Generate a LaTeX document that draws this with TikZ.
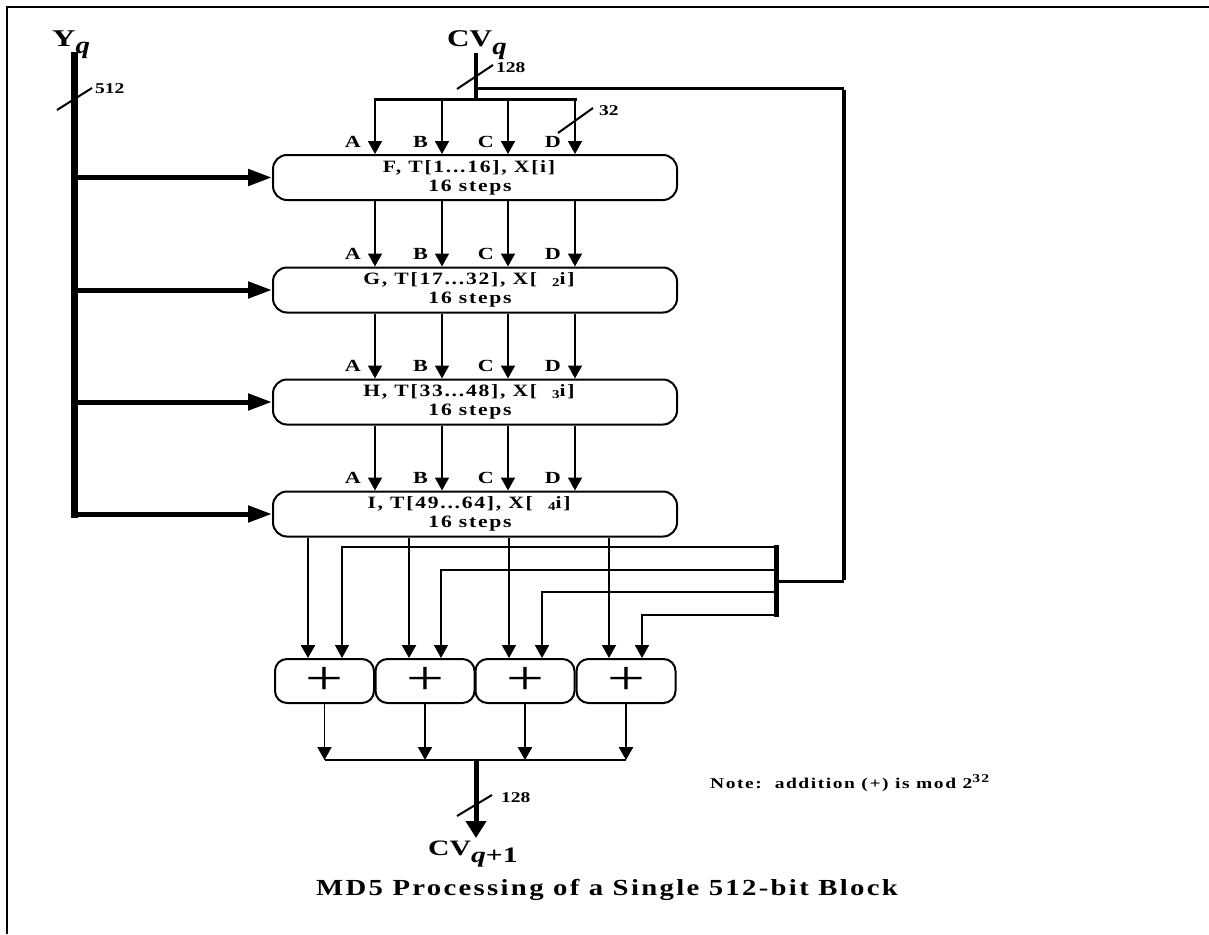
\documentclass[tikz,border=0pt]{standalone}
\usepackage{fontspec}
\usepackage{graphicx}
\setmainfont{Liberation Serif}
\newfontfamily\lsp{Liberation Serif}[LetterSpace=8]
\usetikzlibrary{arrows.meta}
\newcommand\stx[2][1.25]{\scalebox{#1}[1]{#2}}
\newcommand\fsz[1]{\fontsize{#1}{#1}\selectfont}
\begin{document}
\begin{tikzpicture}[x=1pt,y=-1pt,
  stage/.style={draw, line width=2pt, rounded corners=14pt, minimum width=404pt,
    minimum height=45pt, inner sep=0pt, align=center, font=\lsp\bfseries\fsz{17.3}},
  addbox/.style={draw, line width=2pt, rounded corners=12pt, minimum width=99pt,
    minimum height=44pt, inner sep=0pt, font=\fsz{48}},
  arr/.style={line width=1.8pt, -{Triangle[width=14pt,length=13pt]}},
  thinarr/.style={line width=1.3pt, -{Triangle[width=14pt,length=13pt]}},
  bigarr/.style={line width=5pt, -{Triangle[width=16pt,length=24pt]}},
  outarr/.style={line width=5pt, -{Triangle[width=20pt,length=17pt]}},
  lbl/.style={font=\bfseries\fsz{17}, inner sep=0pt, anchor=base east},
  num/.style={font=\bfseries\fsz{15}, inner sep=0pt, anchor=base west},
  big/.style={font=\bfseries\fsz{24}, inner sep=0pt, anchor=base west},
  slash/.style={line width=2pt},
  frame/.style={line width=2pt}]
\useasboundingbox (0,0) rectangle (1209,934);
% frame
\draw[frame] (7,934) -- (7,7) -- (1209,7);

% column coordinates
\coordinate (xa) at (375,0);
\coordinate (xb) at (442,0);
\coordinate (xc) at (508,0);
\coordinate (xd) at (575,0);

% stages
\node[stage] (f) at (475,177.5) {\stx{F, T[1...16], X[i]}\hspace*{12pt}\\[2pt]\stx{16 steps}\hspace*{10pt}};
\node[stage] (g) at (475,290) {\stx{G, T[17...32], X[\hspace{0.7em}\raisebox{-2pt}{\fsz{12}2}i]}\hspace*{12pt}\\[2pt]\stx{16 steps}\hspace*{10pt}};
\node[stage] (h) at (475,402) {\stx{H, T[33...48], X[\hspace{0.7em}\raisebox{-2pt}{\fsz{12}3}i]}\hspace*{12pt}\\[2pt]\stx{16 steps}\hspace*{10pt}};
\node[stage] (i) at (475,514) {\stx{I, T[49...64], X[\hspace{0.7em}\raisebox{-2pt}{\fsz{12}4}i]}\hspace*{12pt}\\[2pt]\stx{16 steps}\hspace*{10pt}};

% Yq input bus
\node[big] (yq) at (52,47) {\stx[1.35]{Y}\raisebox{-6pt}{\stx[1.2]{\itshape q}}};
\coordinate (ytop) at (74.5,52);
\coordinate (ybot) at (74.5,518);
\draw[line width=7pt] (ytop) -- (ybot);
\draw[slash] (57,110) -- (92,88);
\node[num] (n512) at (95,93) {\stx[1.3]{512}};
\foreach \s in {f,g,h,i} \draw[bigarr] (ytop |- \s.west) -- (\s.west);

% CVq input
\node[big] (cvq) at (447,47) {\stx[1.3]{CV}\raisebox{-8pt}{\stx[1.2]{\itshape q}}};
\coordinate (ctop) at (476,53);
\coordinate (cjun) at (476,99.5);
\coordinate (cfb) at (476,88.5);
\draw[line width=4.5pt] (ctop) -- (cjun);
\draw[line width=3pt] ([xshift=-1.5pt]xa |- cjun) -- ([xshift=1.5pt]xd |- cjun);
\draw[slash] (457,89) -- (493,65);
\node[num] (n128a) at (496,72) {\stx[1.3]{128}};
\foreach \x in {xa,xb,xc,xd} \draw[arr] (\x |- cjun) -- (\x |- f.north);
\draw[slash] (558,133) -- (593,108);
\node[num] (n32) at (599,115) {\stx[1.3]{32}};

% arrows between stages
\foreach \a/\b in {f/g,g/h,h/i}
  \foreach \x in {xa,xb,xc,xd}
    \draw[arr] (\x |- \a.south) -- (\x |- \b.north);

% A B C D labels
\foreach \s in {f,g,h,i}{
  \path (xa |- \s.north) ++(-14,-7) node[lbl] (la\s) {\stx[1.3]{A}};
  \path (xb |- \s.north) ++(-14,-7) node[lbl] (lb\s) {\stx[1.3]{B}};
  \path (xc |- \s.north) ++(-14,-7) node[lbl] (lc\s) {\stx[1.3]{C}};
  \path (xd |- \s.north) ++(-14,-7) node[lbl] (ld\s) {\stx[1.3]{D}};
}

% adders
\node[addbox] (p1) at (324.5,681) {\stx[1.4]{+}};
\node[addbox] (p2) at (425,681) {\stx[1.4]{+}};
\node[addbox] (p3) at (525,681) {\stx[1.4]{+}};
\node[addbox] (p4) at (626,681) {\stx[1.4]{+}};

% outputs of stage I into adders
\coordinate (o1) at (308,0);
\coordinate (o2) at (409,0);
\coordinate (o3) at (509,0);
\coordinate (o4) at (609,0);
\draw[arr, line width=2.5pt] (o1 |- i.south) -- (o1 |- p1.north);
\draw[arr, line width=2.5pt] (o2 |- i.south) -- (o2 |- p2.north);
\draw[arr] (o3 |- i.south) -- (o3 |- p3.north);
\draw[arr] (o4 |- i.south) -- (o4 |- p4.north);

% feedback of CVq
\coordinate (fbr) at (844,88.5);
\coordinate (fbj) at (777,581);
\draw[line width=3pt] (cfb) -- (fbr);
\draw[line width=4.5pt] ([yshift=-1.5pt]fbr) -- ([yshift=1.5pt]fbr |- fbj);
\draw[line width=3pt] (fbr |- fbj) -- (fbj);
\coordinate (bt) at (776,545);
\coordinate (bb) at (776,617);
\draw[line width=5pt] (bt) -- (bb);
\coordinate (k1) at (342,547);
\coordinate (k2) at (441,570);
\coordinate (k3) at (542,592);
\coordinate (k4) at (642,615);
\draw[thinarr] (bt |- k1) -- (k1) -- (k1 |- p1.north);
\draw[thinarr] (bt |- k2) -- (k2) -- (k2 |- p2.north);
\draw[arr] (bt |- k3) -- (k3) -- (k3 |- p3.north);
\draw[arr] (bt |- k4) -- (k4) -- (k4 |- p4.north);

% adder outputs
\coordinate (hb) at (0,760);
\foreach \p in {p1,p2}
  \draw[arr] (\p.south) -- (\p.south |- hb);
\foreach \p in {p3,p4}
  \draw[arr, line width=2.6pt] (\p.south) -- (\p.south |- hb);
\draw[line width=2pt] (p1.south |- hb) -- (p4.south |- hb);
\coordinate (oj) at (476,760);
\coordinate (otip) at (476,838);
\draw[outarr] (oj) -- (otip);
\draw[slash] (457,816) -- (492,795);
\node[num] (n128b) at (501,802) {\stx[1.3]{128}};
\node[big, font=\bfseries\fsz{22}] (cvo) at (428,855) {\stx[1.35]{CV}\raisebox{-7pt}{\stx[1.35]{\itshape q\upshape +1}}};

% note and caption
\node[font=\lsp\bfseries\fsz{15}, inner sep=0pt, anchor=base west] (note) at (710,788)
  {\stx[1.3]{Note:\ \ addition (+) is mod 2\raisebox{6pt}{\fsz{12}32}}};
\node[font=\lsp\bfseries\fsz{23}, inner sep=0pt, anchor=base] (cap) at (607,895)
  {\stx{MD5 Processing of a Single 512-bit Block}};
\end{tikzpicture}
\end{document}
